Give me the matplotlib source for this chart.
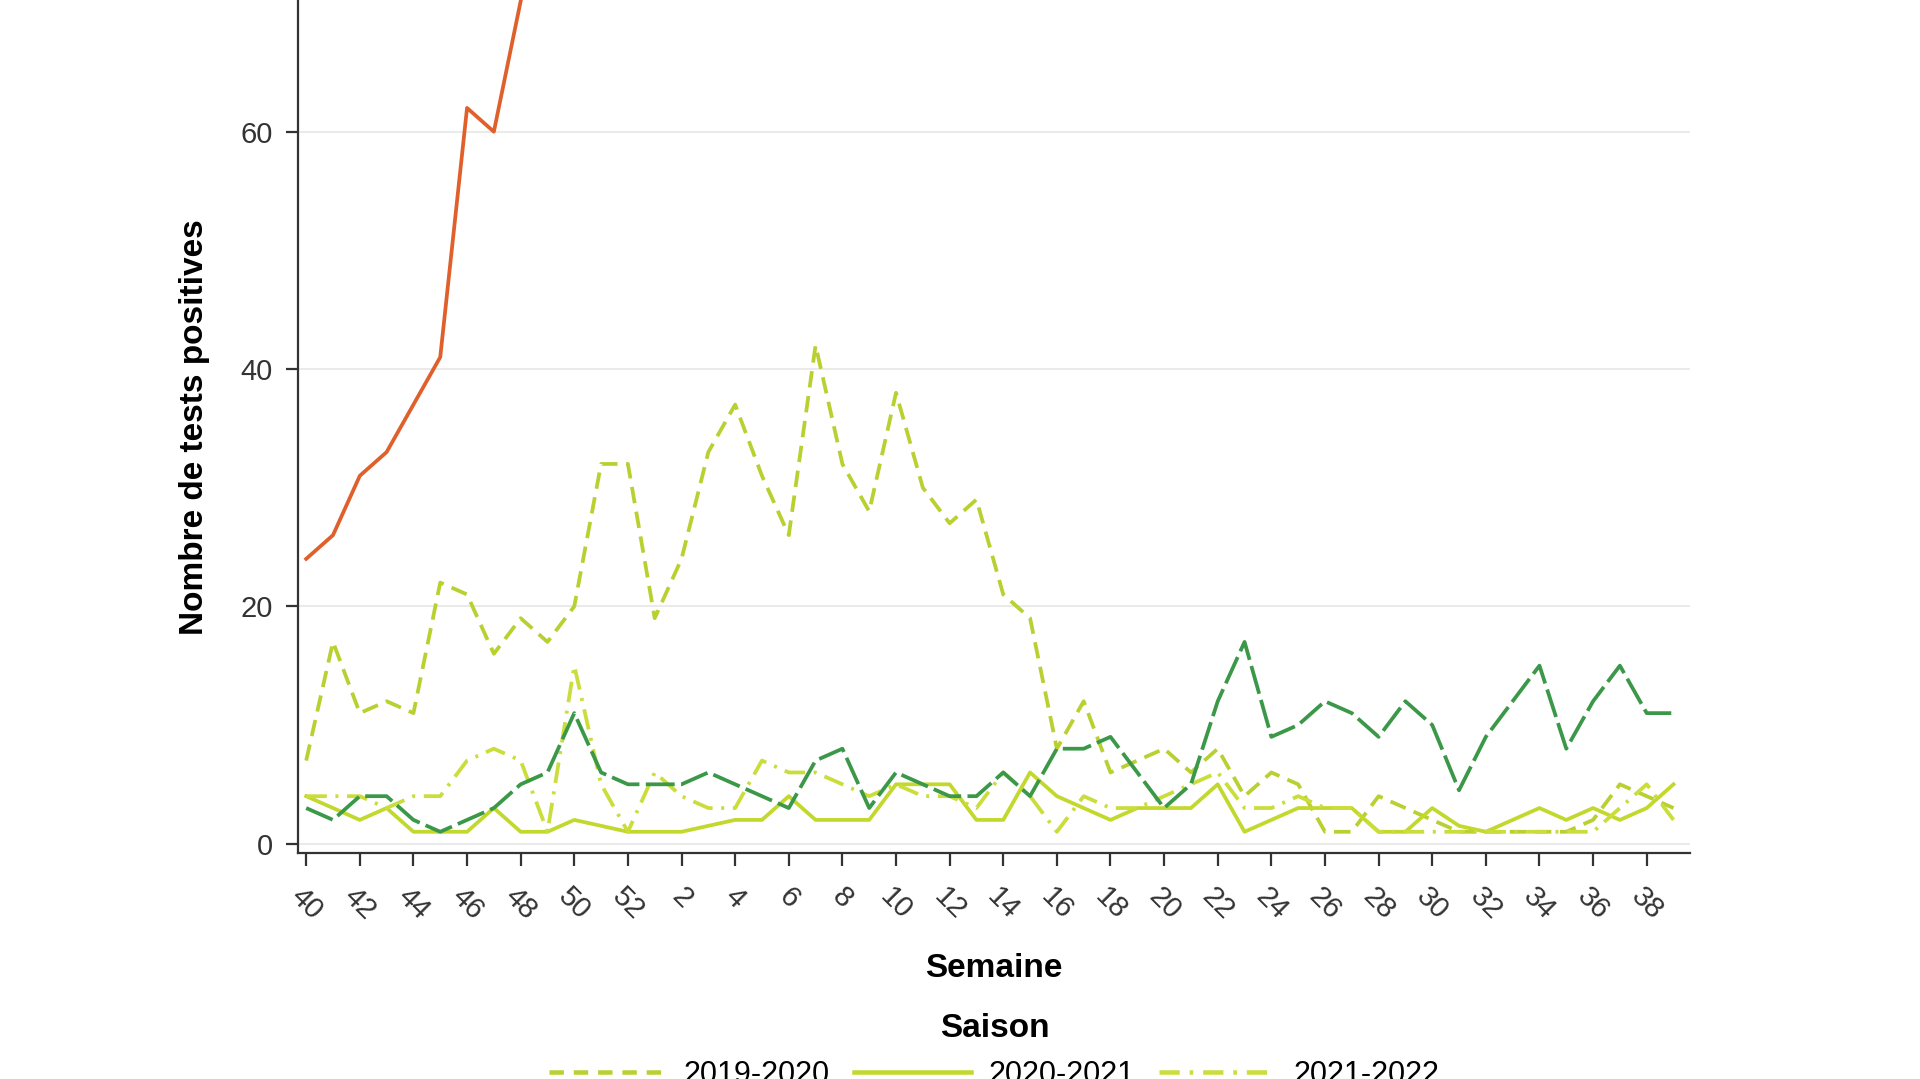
import matplotlib
matplotlib.use("Agg")
import matplotlib.pyplot as plt
from matplotlib.lines import Line2D

# semaines 40..52 puis 1..39
weeks = list(range(40, 53)) + list(range(1, 40))

s2019 = [7, 17, 11, 12, 11, 22, 21, 16, 19, 17, 20, 32, 32, 19, 24, 33, 37, 31, 26, 42,
         32, 28, 38, 30, 27, 29, 21, 19, 8, 12, 6, 7, 8, 6, 8, 4, 6, 5, 1, 1,
         4, 3, 2, 1, 1, 1, 1, 1, 2, 5, 4, 3]
s2020 = [4, 3, 2, 3, 1, 1, 1, 3, 1, 1, 2, 1.5, 1, 1, 1, 1.5, 2, 2, 4, 2,
         2, 2, 5, 5, 5, 2, 2, 6, 4, 3, 2, 3, 3, 3, 5, 1, 2, 3, 3, 3,
         1, 1, 3, 1.5, 1, 2, 3, 2, 3, 2, 3, 5]
s2021 = [4, 4, 4, 3, 4, 4, 7, 8, 7, 1, 15, 5, 1, 6, 4, 3, 3, 7, 6, 6,
         5, 4, 5, 4, 4, 3, 6, 4, 1, 4, 3, 3, 4, 5, 6, 3, 3, 4, 3, 3,
         1, 1, 1, 1, 1, 1, 1, 1, 1, 3, 5, 2]
s2022 = [3, 2, 4, 4, 2, 1, 2, 3, 5, 6, 11, 6, 5, 5, 5, 6, 5, 4, 3, 7,
         8, 3, 6, 5, 4, 4, 6, 4, 8, 8, 9, 6, 3, 5, 12, 17, 9, 10, 12, 11,
         9, 12, 10, 4.5, 9, 12, 15, 8, 12, 15, 11, 11]
s2023 = [24, 26, 31, 33, 37, 41, 62, 60, 71]

seasons = ["2019-2020", "2020-2021", "2021-2022"]

c2019 = "#b9d030"
c2020 = "#c3d82c"
c2021 = "#cadd3a"
c2022 = "#3b9848"
c2023 = "#e0602c"

plt.rcParams["font.family"] = ["Liberation Sans", "DejaVu Sans"]

fig = plt.figure(figsize=(19.2, 10.79), dpi=100)
ax = fig.add_axes([0.155, 0.209, 0.725, 0.791])

x = list(range(len(weeks)))
lw = 2.7
ls19 = (0, (4.4, 2.3))
ls21 = (0, (5.5, 2.3, 0.8, 2.3))
ls22 = (0, (7.7, 1.7))

ax.plot(x, s2019, color=c2019, lw=lw, ls=ls19)
ax.plot(x, s2020, color=c2020, lw=lw, ls="-")
ax.plot(x, s2021, color=c2021, lw=lw, ls=ls21)
ax.plot(x, s2022, color=c2022, lw=lw, ls=ls22)
ax.plot(x[:len(s2023)], s2023, color=c2023, lw=lw, ls="-")

ax.set_xlim(-0.32, 51.6)
ax.set_ylim(-0.83, 71.1)
ax.set_yticks([0, 20, 40, 60])
ax.set_xticks(x[::2])
ax.set_xticklabels([str(w) for w in weeks[::2]], rotation=-45, ha="center", va="top")

ax.grid(axis="y", color="#e6e6e6", lw=1.2)
ax.set_axisbelow(True)
for side in ["top", "right"]:
    ax.spines[side].set_visible(False)
for side in ["left", "bottom"]:
    ax.spines[side].set_color("#333333")
    ax.spines[side].set_linewidth(1.6)
ax.tick_params(axis="both", colors="#333333", labelcolor="#333333", labelsize=21,
               length=9, width=1.6)
ax.tick_params(axis="x", pad=12)
ax.tick_params(axis="y", pad=9)

ax.set_xlabel("Semaine", fontsize=24, fontweight="bold", labelpad=20)
ax.set_ylabel("Nombre de tests positives", fontsize=24, fontweight="bold", labelpad=22)

handles = [
    Line2D([], [], color=c2019, lw=lw * 1.2, ls=(0, (3.2, 2.2))),
    Line2D([], [], color=c2020, lw=lw * 1.2, ls="-"),
    Line2D([], [], color=c2021, lw=lw * 1.2, ls=(0, (4.5, 2.2, 0.8, 2.2))),
]
leg = fig.legend(handles, seasons, loc="upper center", bbox_to_anchor=(0.518, 0.075),
                 ncol=3, frameon=False, fontsize=22, title="Saison",
                 title_fontproperties={"size": 24, "weight": "bold"},
                 handlelength=3.8, handletextpad=0.6, columnspacing=0.8, borderpad=0)

fig.savefig("out.png", dpi=100, facecolor="white")
